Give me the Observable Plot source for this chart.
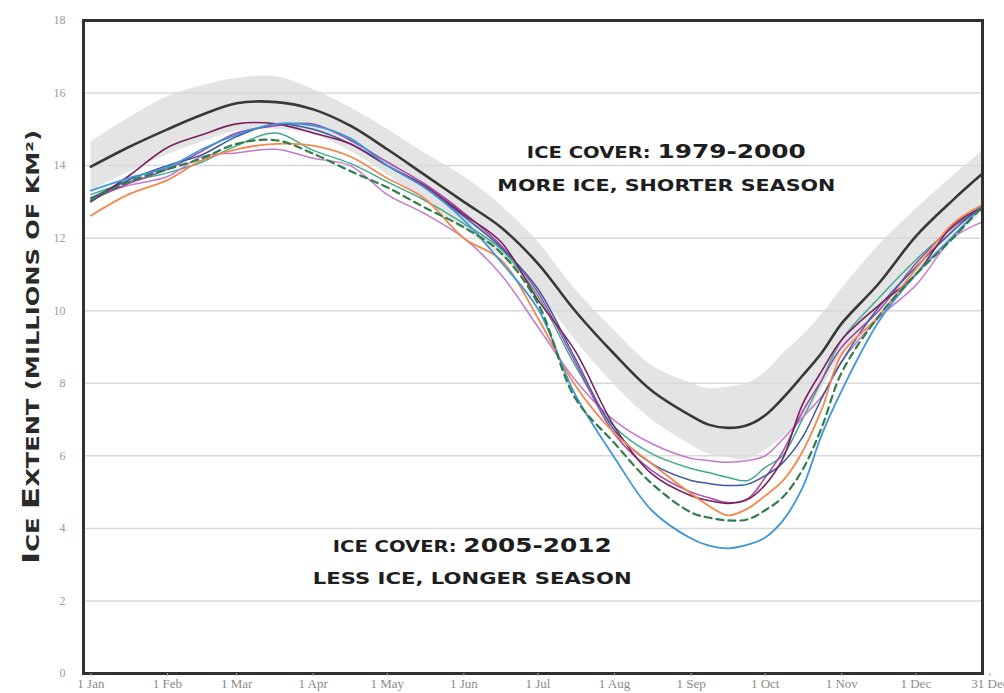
<!DOCTYPE html>
<html>
<head>
<meta charset="utf-8">
<script src="https://cdn.jsdelivr.net/npm/d3@7"></script>
<script src="https://cdn.jsdelivr.net/npm/@observablehq/plot@0.6"></script>
<style>
  html, body { margin: 0; padding: 0; background: #fff; }
  #chart svg { display: block; }
</style>
</head>
<body>
<div id="chart"></div>
<script>
// Day of year (0 = 1 Jan)
const days = [0,15,31,45,59,75,90,105,120,135,151,166,181,196,212,227,243,250,258,266,273,280,288,296,304,319,334,349,361];

// 1979-2000 average and its shaded range (millions of km²)
const mean7900 = [13.97,14.5,15.0,15.4,15.72,15.75,15.55,15.1,14.45,13.75,13.0,12.3,11.3,10.0,8.8,7.8,7.1,6.86,6.77,6.85,7.12,7.58,8.2,8.85,9.65,10.75,12.05,13.05,13.78];
const bandHi   = [14.65,15.3,15.9,16.2,16.4,16.45,16.1,15.6,15.0,14.35,13.7,12.9,11.9,10.6,9.45,8.5,8.0,7.85,7.9,8.0,8.3,8.8,9.3,9.9,10.6,11.8,12.8,13.7,14.4];
const bandLo   = [13.3,13.8,14.3,14.65,14.95,15.0,14.85,14.4,13.75,13.0,12.25,11.5,10.5,9.2,7.95,7.0,6.3,6.05,5.95,5.9,6.15,6.5,6.95,7.85,8.75,9.9,10.9,11.95,12.7];

// 2005-2012 yearly curves
const y2005 = [13.2,13.55,13.8,14.1,14.55,14.9,14.42,14.06,13.55,13.05,12.4,11.7,10.4,8.5,6.8,6.06,5.65,5.54,5.4,5.32,5.68,6.0,7.0,8.1,9.2,10.35,11.4,12.3,12.9];
const y2006 = [13.12,13.45,13.7,14.25,14.35,14.45,14.2,14.0,13.2,12.68,12.0,11.0,9.55,8.1,6.97,6.34,5.93,5.87,5.82,5.87,6.0,6.45,7.05,7.65,8.6,9.8,10.7,12.0,12.45];
const y2007 = [13.04,13.55,13.9,14.2,14.6,14.7,14.33,13.85,13.4,12.85,12.3,11.6,10.2,7.6,6.35,5.24,4.44,4.3,4.22,4.25,4.5,4.85,5.6,6.8,8.3,9.85,11.0,12.0,12.88];
const y2008 = [13.05,13.5,13.9,14.4,14.9,15.1,15.15,14.7,14.1,13.5,12.7,11.8,10.5,8.6,6.6,5.6,5.0,4.85,4.71,4.82,5.4,6.1,7.2,8.1,9.0,10.0,11.3,12.3,12.8];
const y2009 = [13.1,13.6,14.0,14.3,14.8,15.15,15.0,14.6,14.0,13.4,12.6,11.75,10.6,8.7,6.7,5.79,5.32,5.24,5.18,5.22,5.45,5.8,6.5,7.6,8.6,10.1,11.2,12.2,12.9];
const y2010 = [13.0,13.7,14.5,14.85,15.15,15.15,14.9,14.6,14.0,13.45,12.65,11.9,10.3,8.9,6.8,5.51,4.9,4.77,4.69,4.8,5.2,5.9,7.4,8.35,9.2,10.15,11.0,12.35,12.85];
const y2011 = [12.62,13.2,13.6,14.15,14.45,14.6,14.55,14.25,13.65,13.1,12.0,11.4,9.8,7.95,6.62,5.79,4.96,4.63,4.36,4.55,4.9,5.3,6.1,7.3,8.8,9.85,11.15,12.4,12.92];
const y2012 = [13.31,13.65,13.95,14.45,14.85,15.15,15.1,14.75,14.0,13.4,12.5,11.35,10.05,7.7,5.95,4.5,3.72,3.53,3.45,3.55,3.75,4.2,5.1,6.6,7.8,9.7,11.0,12.05,12.9];

// Axis ticks
const xTickDays   = [0,31,59,90,120,151,181,212,243,273,304,334,364];
const xTickLabels = ["1 Jan","1 Feb","1 Mar","1 Apr","1 May","1 Jun","1 Jul","1 Aug","1 Sep","1 Oct","1 Nov","1 Dec","31 Dec"];
const yTicks = [0,2,4,6,8,10,12,14,16,18];
const yGrid  = [2,4,6,8,10,12,14,16];

// Text
const yLabel = "ICE EXTENT (MILLIONS OF KM²)";
const noteOld = ["ICE COVER: 1979-2000", "MORE ICE, SHORTER SEASON"];
const noteNew = ["ICE COVER: 2005-2012", "LESS ICE, LONGER SEASON"];

// Build tables
const baseRows = days.map((d, i) => ({day: d, mean: mean7900[i], hi: bandHi[i], lo: bandLo[i]}));
const yearSeries = [
  {year: "2005", values: y2005, color: "#3fab8d", width: 1.5},
  {year: "2006", values: y2006, color: "#c678cc", width: 1.5},
  {year: "2008", values: y2008, color: "#a646a8", width: 1.5},
  {year: "2009", values: y2009, color: "#3c5a9c", width: 1.5},
  {year: "2010", values: y2010, color: "#7a1f5f", width: 1.6},
  {year: "2011", values: y2011, color: "#f28a50", width: 1.8},
  {year: "2012", values: y2012, color: "#3d96da", width: 1.8},
  {year: "2007", values: y2007, color: "#2f7d48", width: 2.2, dash: "7,5"}
];
const rowsOf = s => days.map((d, i) => ({day: d, value: s.values[i]}));

const textFont = "DejaVu Sans";
const noteStyle = {fontFamily: textFont, fontWeight: "bold", fill: "#1e1e1e", fontSize: 15, textAnchor: "middle"};

const svg = Plot.plot({
  width: 1004,
  height: 693,
  marginLeft: 83,
  marginRight: 22,
  marginTop: 20,
  marginBottom: 20,
  style: {background: "#fff", fontFamily: "Liberation Serif"},
  x: {domain: [-3, 361], axis: null},
  y: {domain: [0, 18], axis: null},
  marks: [
    Plot.areaY(baseRows, {x: "day", y1: "lo", y2: "hi", fill: "#e4e4e4", curve: "catmull-rom"}),
    Plot.ruleY(yGrid, {stroke: "#d9d9d9", strokeWidth: 1.5}),
    ...yearSeries.map(s => Plot.line(rowsOf(s), {
      x: "day", y: "value", stroke: s.color, strokeWidth: s.width,
      strokeDasharray: s.dash, curve: "catmull-rom"
    })),
    Plot.line(baseRows, {x: "day", y: "mean", stroke: "#383838", strokeWidth: 2.6, curve: "catmull-rom"}),
    Plot.frame({stroke: "#303030", strokeWidth: 3}),
    Plot.axisY(yTicks, {label: null, tickSize: 0, tickPadding: 18, fill: "#9a9a9a", tickFormat: d => String(d)}),
    Plot.axisX(xTickDays, {label: null, tickSize: 3, tickPadding: 2, fill: "#8a8a8a", stroke: "#aaa", tickFormat: (d, i) => xTickLabels[i]}),
    Plot.text([noteOld[0]], {x: 233, y: 14.33, ...noteStyle}),
    Plot.text([noteOld[1]], {x: 233, y: 13.42, ...noteStyle}),
    Plot.text([noteNew[0]], {x: 154.4, y: 3.47, ...noteStyle}),
    Plot.text([noteNew[1]], {x: 154.4, y: 2.59, ...noteStyle}),
    Plot.text([yLabel], {frameAnchor: "left", dx: -50, rotate: -90, fontFamily: textFont, fontWeight: "bold",
      fontSize: 17, fill: "#2a2a2a", textAnchor: "middle"})
  ]
});

// Tick label sizes (inline style so it wins over inherited font settings)
const root = d3.select(svg);
root.selectAll("text").each(function () {
  const t = this.textContent;
  if (xTickLabels.includes(t)) this.style.fontSize = "13px";
  else if (yTicks.map(String).includes(t)) this.style.fontSize = "12px";
});

// Copperplate-like lettering: larger digits / initial capitals, fitted widths
function setSegments(el, segs) {
  const sel = d3.select(el);
  sel.text(null);
  segs.forEach(([t, size]) => sel.append("tspan").attr("font-size", size).text(t));
}
const lengths = {};
lengths[noteOld[0]] = 279;
lengths[noteOld[1]] = 338;
lengths[noteNew[0]] = 279;
lengths[noteNew[1]] = 319;
lengths[yLabel] = 434;
root.selectAll("text").each(function () {
  const t = this.textContent;
  if (!lengths[t]) return;
  if (t === yLabel) {
    setSegments(this, [["I", 23], ["CE ", 17], ["E", 23], [t.slice(5), 17]]);
  } else {
    const parts = t.split(/([0-9][0-9\-]*)/).filter(p => p.length);
    setSegments(this, parts.map(p => [p, /[0-9]/.test(p) ? 19 : 15]));
  }
  this.setAttribute("textLength", lengths[t]);
  this.setAttribute("lengthAdjust", "spacingAndGlyphs");
});

document.getElementById("chart").appendChild(svg);
</script>
</body>
</html>
